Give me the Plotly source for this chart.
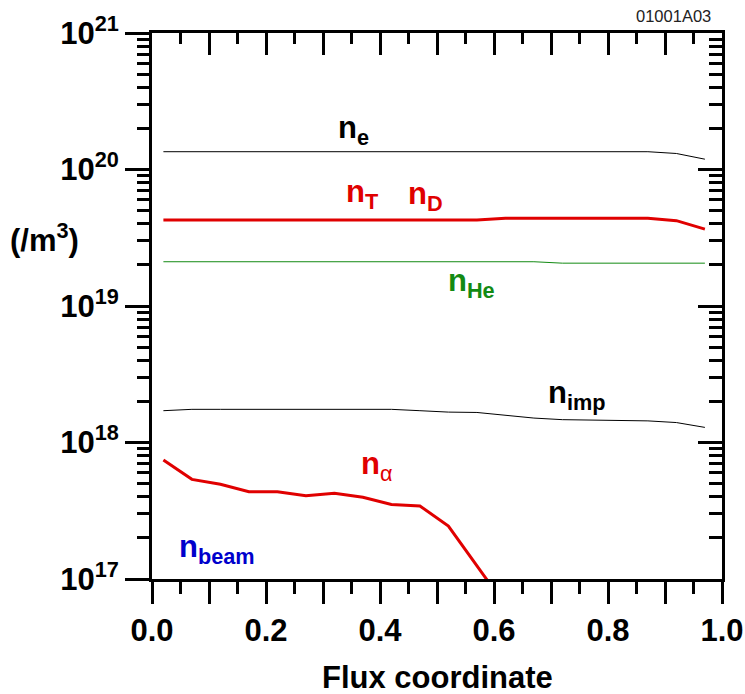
import plotly.graph_objects as go

# Flux-surface grid (normalised flux coordinate)
flux = [0.02, 0.07, 0.12, 0.17, 0.22, 0.27, 0.32, 0.37, 0.42, 0.47,
        0.52, 0.57, 0.62, 0.67, 0.72, 0.77, 0.82, 0.87, 0.92, 0.97]

# Densities in particles per m^3
n_e = [1.35e20] * 18 + [1.31e20, 1.19e20]
n_TD = [4.27e19] * 12 + [4.39e19] * 6 + [4.22e19, 3.66e19]
n_He = [2.11e19] * 14 + [2.06e19] * 6
n_imp = [1.71e18, 1.75e18, 1.75e18, 1.75e18, 1.75e18, 1.75e18, 1.75e18,
         1.75e18, 1.75e18, 1.71e18, 1.67e18, 1.66e18, 1.59e18, 1.51e18,
         1.47e18, 1.46e18, 1.45e18, 1.44e18, 1.40e18, 1.29e18]
flux_alpha = [0.02, 0.07, 0.12, 0.17, 0.22, 0.27, 0.32, 0.37, 0.42, 0.47,
              0.52, 0.57, 0.62]
n_alpha = [7.45e17, 5.37e17, 4.94e17, 4.36e17, 4.36e17, 4.07e17, 4.25e17,
           3.97e17, 3.52e17, 3.43e17, 2.44e17, 1.26e17, 6.4e16]

# Tick values and labels
x_major = [round(0.1 * i, 1) for i in range(11)]
x_labels = ["0.0", "", "0.2", "", "0.4", "", "0.6", "", "0.8", "", "1.0"]
x_minor = [round(0.05 + 0.1 * i, 2) for i in range(10)]
y_decades = [17, 18, 19, 20, 21]
y_major = [10.0 ** d for d in y_decades]
y_labels = ["10<sup>%d</sup>" % d for d in y_decades]
y_minor = [m * 10.0 ** d for d in y_decades[:-1] for m in range(2, 10)]

X_RANGE = [0, 1]
Y_RANGE = [17, 21]          # log10 of density

RED = "#e00000"
GREEN = "#138a13"
BLUE = "#0000cc"
FONT = "Liberation Sans, Arial, sans-serif"

W, H = 745, 694
ML, MR, MT, MB = 152, 23, 33, 115
PW, PH = W - ML - MR, H - MT - MB        # 570 x 546

fig = go.Figure()
fig.add_trace(go.Scatter(x=flux, y=n_e, mode="lines",
                         line=dict(color="black", width=1)))
fig.add_trace(go.Scatter(x=flux, y=n_TD, mode="lines",
                         line=dict(color=RED, width=3)))
fig.add_trace(go.Scatter(x=flux, y=n_He, mode="lines",
                         line=dict(color=GREEN, width=1)))
fig.add_trace(go.Scatter(x=flux, y=n_imp, mode="lines",
                         line=dict(color="black", width=1)))
fig.add_trace(go.Scatter(x=flux_alpha, y=n_alpha, mode="lines",
                         line=dict(color=RED, width=3)))
# invisible carrier so the mirrored top/right axes are laid out
fig.add_trace(go.Scatter(x=flux, y=n_e, mode="lines", xaxis="x2",
                         yaxis="y2", hoverinfo="skip",
                         line=dict(color="rgba(0,0,0,0)", width=0)))

tick_font = dict(size=31, weight="bold", family=FONT, color="black")
frame = dict(showline=True, linecolor="black", linewidth=3,
             tickcolor="black", tickwidth=3, showgrid=False,
             zeroline=False, automargin=False)


def minor(vals, ticks, length):
    return dict(tickmode="array", tickvals=vals, ticks=ticks,
                ticklen=length, tickwidth=3, tickcolor="black")


fig.update_layout(
    template="none",
    width=W, height=H,
    margin=dict(l=ML, r=MR, t=MT, b=MB),
    paper_bgcolor="white", plot_bgcolor="white",
    showlegend=False,
    font=dict(family=FONT, color="black"),
    # bottom / left: outward ticks with labels
    xaxis=dict(range=X_RANGE, tickmode="array", tickvals=x_major,
               ticktext=x_labels, ticks="outside", ticklen=22,
               minor=minor(x_minor, "outside", 12),
               tickfont=tick_font, **frame),
    yaxis=dict(range=Y_RANGE, type="log", tickmode="array",
               tickvals=y_major, ticktext=y_labels, ticks="outside",
               ticklen=24, minor=minor(y_minor, "outside", 12),
               tickfont=tick_font, **frame),
    # top / right: inward ticks, no labels
    xaxis2=dict(range=X_RANGE, overlaying="x", side="top", anchor="y",
                tickmode="array", tickvals=x_major, ticks="inside",
                ticklen=22, minor=minor(x_minor, "inside", 11),
                showticklabels=False, **frame),
    yaxis2=dict(range=Y_RANGE, type="log", overlaying="y", side="right",
                anchor="x", tickmode="array", tickvals=y_major,
                ticks="inside", ticklen=24,
                minor=minor(y_minor, "inside", 13),
                showticklabels=False, **frame),
)

labels = [
    ("<b>n</b><sub><b>e</b></sub>", 0.354, 20.289, "black"),
    ("<b>n</b><sub><b>T</b></sub>", 0.370, 19.821, RED),
    ("<b>n</b><sub><b>D</b></sub>", 0.479, 19.806, RED),
    ("<b>n</b><sub><b>He</b></sub>", 0.560, 19.170, GREEN),
    ("<b>n</b><sub><b>imp</b></sub>", 0.746, 18.348, "black"),
    ("<b>n</b><sub>α</sub>", 0.394, 17.828, RED),
    ("<b>n</b><sub><b>beam</b></sub>", 0.114, 17.220, BLUE),
]
for text, x, y, color in labels:
    fig.add_annotation(text=text, x=x, y=y, xref="x", yref="y",
                       showarrow=False, xanchor="center", yanchor="middle",
                       font=dict(size=31, color=color, family=FONT))


def px_x(px):
    return (px - ML) / PW


def px_y(py):
    return (H - MB - py) / PH


fig.add_annotation(text="<b>(/m<sup>3</sup>)</b>", xref="paper", yref="paper",
                   x=px_x(44), y=px_y(238), xanchor="center",
                   yanchor="middle", showarrow=False,
                   font=dict(size=31, family=FONT))
fig.add_annotation(text="<b>Flux coordinate</b>", xref="paper", yref="paper",
                   x=px_x(437), y=px_y(677), xanchor="center",
                   yanchor="middle", showarrow=False,
                   font=dict(size=31, family=FONT))
fig.add_annotation(text="01001A03", xref="paper", yref="paper",
                   x=px_x(713), y=px_y(16), xanchor="right",
                   yanchor="middle", showarrow=False,
                   font=dict(size=16.5, color="#222", family=FONT))

fig.write_html("out.html")
